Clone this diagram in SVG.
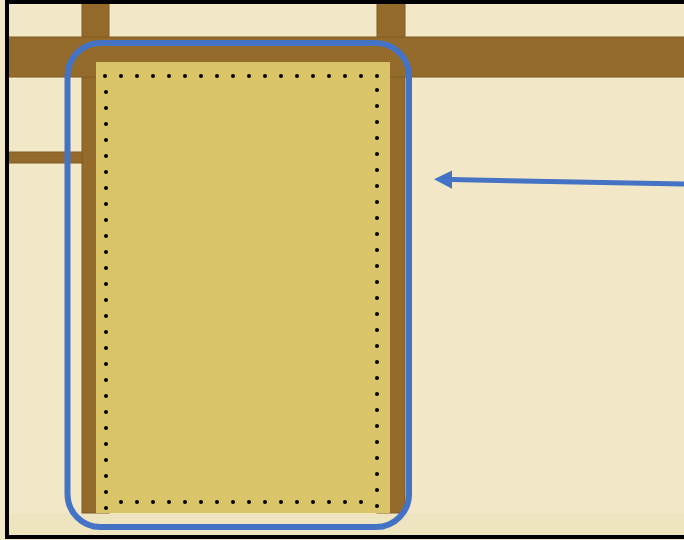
<svg xmlns="http://www.w3.org/2000/svg" width="684" height="540" viewBox="0 0 684 540">
  <style>
    .wood { fill: #946B2A; stroke: #7F5A22; stroke-width: 1; }
    .dots { fill: none; stroke: #000; stroke-width: 4; stroke-linecap: round; stroke-dasharray: 0 16; }
    .hl { fill: none; stroke: #4472C4; stroke-width: 6; }
  </style>
  <rect x="0" y="0" width="684" height="540" fill="#F2E8C8"/>
  <rect x="9" y="513" width="680" height="22" fill="#EEE4C0"/>
  <g id="posts">
    <rect class="wood" x="82" y="2" width="27" height="511"/>
    <rect class="wood" x="377" y="2" width="28" height="511"/>
  </g>
  <g id="beam">
    <rect class="wood" x="7" y="37" width="690" height="40"/>
  </g>
  <g id="rail">
    <rect class="wood" x="7" y="152" width="75" height="11"/>
  </g>
  <g id="panel">
    <rect x="96" y="62" width="294" height="451" fill="#D9C468"/>
    <path class="dots" d="M105 76 H379 M377 90 V508 M121 502 H363 M106 92 V510"/>
  </g>
  <g id="highlight">
    <rect class="hl" x="67.5" y="43" width="341.5" height="484" rx="33" ry="33"/>
  </g>
  <g id="connectors">
    <line x1="690" y1="184" x2="450" y2="179.6" stroke="#4472C4" stroke-width="5"/>
    <polygon points="434,179.3 452,170.5 452,188.8" fill="#4472C4"/>
  </g>
  <rect x="7" y="2" width="700" height="535" fill="none" stroke="#000" stroke-width="4"/>
</svg>
